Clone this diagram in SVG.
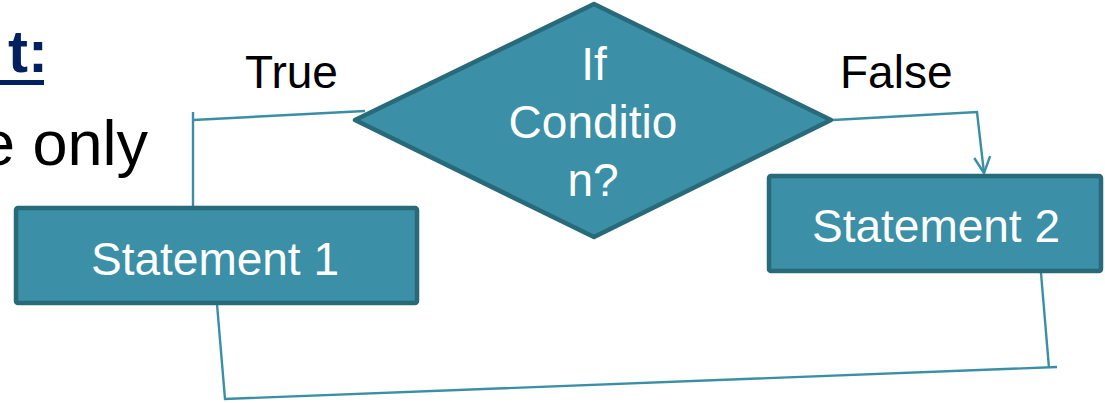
<svg xmlns="http://www.w3.org/2000/svg" width="1105" height="403" viewBox="0 0 1105 403">
<style>
.shape{fill:#3b8fa6;stroke:#286a7a;stroke-width:4.5;stroke-linejoin:round}
.wt{fill:#ffffff;font-family:"Liberation Sans",Arial,sans-serif;font-size:46px;text-anchor:middle}
.bt{fill:#000000;font-family:"Liberation Sans",Arial,sans-serif;font-size:46px}
.conn{fill:none;stroke:#3a8fa6;stroke-width:2.4}
</style>
<defs>
<marker id="arr" viewBox="0 0 20 20" refX="18" refY="10" markerWidth="20" markerHeight="20" markerUnits="userSpaceOnUse" orient="auto">
<path d="M2,2 L18,10 L2,18" fill="none" stroke="#3a8fa6" stroke-width="2.4"/>
</marker>
</defs>
<rect width="1105" height="403" fill="#ffffff"/>
<g id="background-text">
<text x="48" y="72" font-family="'Liberation Sans',Arial,sans-serif" font-size="60" font-weight="bold" fill="#002060" text-anchor="end">t:</text>
<rect x="0" y="80" width="44" height="5" fill="#002060"/>
<text x="148" y="165" font-family="'Liberation Sans',Arial,sans-serif" font-size="63" fill="#000000" text-anchor="end">e only</text>
</g>
<g id="connectors">
<path class="conn" d="M193 112 V207"/>
<path class="conn" d="M193 120 L365 111"/>
<path class="conn" d="M833 120 L977 112 L984 173" marker-end="url(#arr)"/>
<path class="conn" d="M1041 273 L1049 368"/>
<path class="conn" d="M1057 367 L225 399 L217 304"/>
</g>
<g id="label-true"><text class="bt" x="245" y="88">True</text></g>
<g id="label-false"><text class="bt" x="840" y="88">False</text></g>
<g id="decision">
<polygon class="shape" points="594,4 831,120 594,237 355,120"/>
<text class="wt" x="594" y="80">If</text>
<text class="wt" x="593" y="138" font-size="47">Conditio</text>
<text class="wt" x="593" y="196">n?</text>
</g>
<g id="statement1">
<rect class="shape" x="16" y="208" width="401" height="95" rx="2"/>
<text class="wt" x="215" y="275">Statement 1</text>
</g>
<g id="statement2">
<rect class="shape" x="769" y="176" width="332" height="95" rx="2"/>
<text class="wt" x="936" y="242" font-size="47">Statement 2</text>
</g>
</svg>
